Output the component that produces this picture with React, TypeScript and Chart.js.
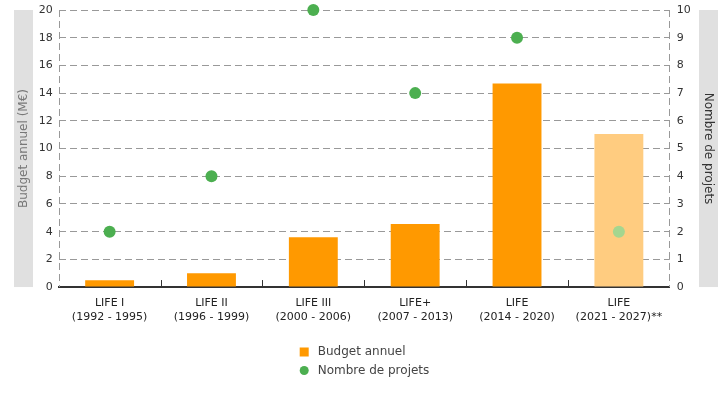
import React, { useEffect, useRef } from 'react';
import { Chart, registerables } from 'chart.js';

Chart.register(...registerables);

const categories: string[][] = [
  ['LIFE I', '(1992 - 1995)'],
  ['LIFE II', '(1996 - 1999)'],
  ['LIFE III', '(2000 - 2006)'],
  ['LIFE+', '(2007 - 2013)'],
  ['LIFE', '(2014 - 2020)'],
  ['LIFE', '(2021 - 2027)**'],
];
const budget = [0.5, 1.0, 3.6, 4.55, 14.7, 11.05];
const projects = [2, 4, 10, 7, 9, 2];
const barColors = ['#ff9900', '#ff9900', '#ff9900', '#ff9900', '#ff9900', '#ffcc80'];
const pointColors = ['#4caf50', '#4caf50', '#4caf50', '#4caf50', '#4caf50', '#a5d68f'];
const budgetLabel = 'Budget annuel';
const projectsLabel = 'Nombre de projets';
const leftTitle = 'Budget annuel (M€)';
const rightTitle = 'Nombre de projets';

const FONT = "'DejaVu Sans', sans-serif";

const decorPlugin = {
  id: 'decor',
  beforeDraw(chart: any) {
    const { ctx, chartArea } = chart;
    const y = chart.scales.y;
    const y1 = chart.scales.y1;
    ctx.save();
    ctx.fillStyle = '#e0e0e0';
    ctx.fillRect(y.left, chartArea.top, 19, chartArea.bottom - chartArea.top);
    ctx.fillRect(y1.right - 19, chartArea.top, 19, chartArea.bottom - chartArea.top);
    ctx.restore();
  },
  beforeDatasetsDraw(chart: any) {
    const { ctx, chartArea } = chart;
    ctx.save();
    ctx.strokeStyle = '#999';
    ctx.lineWidth = 1;
    ctx.setLineDash([7, 4]);
    ctx.beginPath();
    const lx = Math.round(chartArea.left) + 0.5;
    const rx = Math.round(chartArea.right) - 0.5;
    ctx.moveTo(lx, chartArea.top);
    ctx.lineTo(lx, chartArea.bottom);
    ctx.moveTo(rx, chartArea.top);
    ctx.lineTo(rx, chartArea.bottom);
    ctx.stroke();
    ctx.restore();
  },
  afterDraw(chart: any) {
    const { ctx, chartArea } = chart;
    // upward tick marks at category boundaries
    const xs = chart.scales.x;
    const n = chart.data.labels.length;
    const w = (xs.getPixelForTick(n - 1) - xs.getPixelForTick(0)) / (n - 1);
    ctx.save();
    ctx.strokeStyle = '#333';
    ctx.lineWidth = 1;
    ctx.beginPath();
    for (let i = 0; i < n; i++) {
      const bx = Math.round(xs.getPixelForTick(i) + w / 2) + 0.5;
      if (bx > chartArea.right - 2) continue;
      ctx.moveTo(bx, chartArea.bottom);
      ctx.lineTo(bx, chartArea.bottom - 7);
    }
    ctx.stroke();
    ctx.restore();

    // legend
    const ds = chart.data.datasets;
    ctx.save();
    ctx.font = `12px ${FONT}`;
    let maxW = 0;
    ds.forEach((d: any) => {
      maxW = Math.max(maxW, ctx.measureText(d.label).width);
    });
    const blockW = 18 + maxW;
    const x0 = (chart.width - blockW) / 2 + 2;
    const rows = [352, 370.5];
    ctx.textBaseline = 'middle';
    ctx.textAlign = 'left';
    ds.forEach((d: any, i: number) => {
      const cy = rows[i];
      ctx.fillStyle = d.legendColor;
      if (d.type === 'bar') {
        ctx.fillRect(x0, cy - 4.5, 9, 9);
      } else {
        ctx.beginPath();
        ctx.arc(x0 + 4.5, cy, 4.5, 0, Math.PI * 2);
        ctx.fill();
      }
      ctx.fillStyle = '#444';
      ctx.fillText(d.label, x0 + 18, cy);
    });
    ctx.restore();
  },
};

export default function App() {
  const ref = useRef<HTMLCanvasElement | null>(null);
  useEffect(() => {
    document.body.style.margin = '0';
    Chart.defaults.font.family = FONT;
    const chart = new Chart(ref.current as HTMLCanvasElement, {
      data: {
        labels: categories,
        datasets: [
          {
            type: 'bar',
            label: budgetLabel,
            data: budget,
            backgroundColor: barColors,
            yAxisID: 'y',
            order: 2,
            barPercentage: 0.8,
            categoryPercentage: 0.6,
            legendColor: '#ff9900',
          } as any,
          {
            type: 'line',
            label: projectsLabel,
            data: projects,
            showLine: false,
            pointRadius: 6,
            pointHoverRadius: 6,
            pointBorderWidth: 0,
            pointBackgroundColor: pointColors,
            borderColor: '#4caf50',
            backgroundColor: '#4caf50',
            yAxisID: 'y1',
            order: 1,
            clip: false,
            legendColor: '#4caf50',
          } as any,
        ],
      },
      options: {
        animation: false,
        responsive: false,
        devicePixelRatio: 1,
        layout: { padding: { left: 14, right: 7, top: 10, bottom: 76 } },
        plugins: { legend: { display: false }, tooltip: { enabled: false } },
        scales: {
          x: {
            offset: true,
            grid: {
              display: true,
              offset: true,
              drawOnChartArea: false,
              drawTicks: true,
              tickLength: 9,
              tickColor: 'rgba(0,0,0,0)',
              color: 'rgba(0,0,0,0)',
            },
            border: { display: true, color: '#333', width: 2 },
            ticks: {
              padding: 0,
              color: '#222',
              maxRotation: 0,
              autoSkip: false,
              font: { size: 11, family: FONT, lineHeight: 1.27 },
            },
          },
          y: {
            position: 'left',
            min: 0,
            max: 20,
            ticks: { stepSize: 2, color: '#333', padding: 6, font: { size: 11, family: FONT, lineHeight: 0.5 } },
            grid: { color: '#999', lineWidth: 1, drawTicks: false },
            border: { display: false, dash: [7, 4] },
            title: {
              display: true,
              text: leftTitle,
              color: '#777',
              font: { size: 12, family: FONT },
              padding: { top: 2.3, bottom: 2 },
            },
          },
          y1: {
            position: 'right',
            min: 0,
            max: 10,
            ticks: { stepSize: 1, color: '#333', padding: 7, font: { size: 11, family: FONT, lineHeight: 0.5 } },
            grid: { drawOnChartArea: false, drawTicks: false },
            border: { display: false },
            title: {
              display: true,
              text: rightTitle,
              color: '#333',
              font: { size: 12, family: FONT },
              padding: { top: 2.3, bottom: 3.5 },
            },
          },
        },
      } as any,
      plugins: [decorPlugin],
    });
    return () => chart.destroy();
  }, []);
  return <canvas ref={ref} width={725} height={400} />;
}
